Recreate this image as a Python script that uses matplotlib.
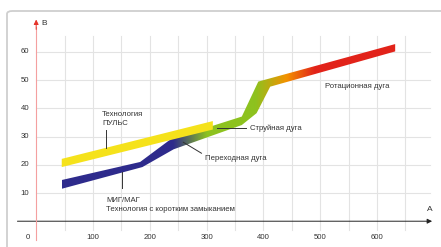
import numpy as np
import matplotlib.pyplot as plt
from matplotlib.colors import LinearSegmentedColormap
from matplotlib.patches import Polygon, FancyBboxPatch

plt.rcParams['font.family'] = ['Liberation Sans', 'DejaVu Sans']

# band edges: current [A] -> voltage [V]
pulse_x = [45, 311]
pulse_top = [22.1, 35.5]
pulse_bot = [19.2, 32.5]

arc_top_x = [45, 183, 237, 362, 391, 632]
arc_top_y = [14.6, 21.0, 29.1, 37.1, 49.5, 62.8]
arc_bot_x = [45, 187, 242, 362, 388, 412, 632]
arc_bot_y = [11.5, 19.2, 25.5, 34.1, 38.3, 47.7, 60.2]

# colour stops along the current axis (MIG/MAG -> transition -> spray -> rotating)
grad_x = [45, 240, 300, 385, 440, 490, 632]
grad_colors = ['#2e2b8c', '#2e2b8c', '#8dc21f', '#8dc21f', '#f39200', '#e2231a', '#e2231a']

x_ticks = [100, 200, 300, 400, 500, 600]
y_ticks = [10, 20, 30, 40, 50, 60]
x_grid = [50, 100, 150, 200, 250, 300, 350, 400, 450, 500, 550, 600, 650]

W, H = 441, 247
fig = plt.figure(figsize=(W / 100, H / 100), dpi=100)
xmin, xmax, ymin, ymax = -35, 700, -9, 73
ax = fig.add_axes([16.3 / W, 0.4 / H, (433.8 - 16.3) / W, (246.6 - 15.3) / H])
ax.set_axis_off()

# frame
fig.add_artist(FancyBboxPatch((7 / W, -0.1), 1.5, 1 - 11 / H + 0.1,
                              boxstyle='round,pad=0,rounding_size=0.012',
                              transform=fig.transFigure, fill=False,
                              ec='#cfcfcf', lw=1.3))

# grid
for y in y_ticks:
    ax.plot([0, 693], [y, y], color='#e3e3e3', lw=0.8, zorder=1)
for x in x_grid:
    ax.plot([x, x], [-3.1, 65.5], color='#e3e3e3', lw=0.8, zorder=1)

# axes with arrows
ax.annotate('', xy=(697, 0), xytext=(-33, 0),
            arrowprops=dict(arrowstyle='-|>', color='#222222', lw=0.7,
                            mutation_scale=7, shrinkA=0, shrinkB=0), zorder=2)
ax.plot([0, 0], [-6.7, 69], color='#f4a0a0', lw=0.8, zorder=2)
ax.annotate('', xy=(0, 71.5), xytext=(0, 68),
            arrowprops=dict(arrowstyle='-|>', color='#e5332a', lw=0.7,
                            mutation_scale=7, shrinkA=0, shrinkB=0), zorder=2)

fs = 5.6
ax.text(-14.4, -5.7, '0', fontsize=fs, ha='center', va='center', color='#333333')
for x in x_ticks:
    ax.text(x, -5.7, str(x), fontsize=fs, ha='center', va='center', color='#333333')
for y in y_ticks:
    ax.text(-19.7, y, str(y), fontsize=fs, ha='center', va='center', color='#333333')
ax.text(13.7, 70.2, 'В', fontsize=fs + 0.4, ha='center', va='center', color='#333333')
ax.text(693, 4.3, 'А', fontsize=fs + 0.4, ha='center', va='center', color='#333333')

# gradient band
cmap = LinearSegmentedColormap.from_list(
    'arc', [((gx - grad_x[0]) / (grad_x[-1] - grad_x[0]), c) for gx, c in zip(grad_x, grad_colors)])
band = np.column_stack([arc_top_x + arc_bot_x[::-1], arc_top_y + arc_bot_y[::-1]])
poly = Polygon(band, closed=True, fill=False, ec='none')
ax.add_patch(poly)
im = ax.imshow(np.linspace(0, 1, 512)[None, :], extent=(grad_x[0], grad_x[-1], 10, 64),
               aspect='auto', cmap=cmap, origin='lower', zorder=3)
im.set_clip_path(poly)

# pulse band
pulse = np.column_stack([pulse_x + pulse_x[::-1], pulse_top + pulse_bot[::-1]])
ax.add_patch(Polygon(pulse, closed=True, fc='#f5e21b', ec='none', zorder=4))

# labels and leader lines
tc = '#333333'
ax.text(116, 36.3, 'Технология\nПУЛЬС', fontsize=fs, ha='left', va='center',
        color=tc, linespacing=1.4)
ax.plot([123, 123], [32.3, 26.0], color='#333333', lw=0.7, zorder=5)
ax.text(123, 5.7, 'МИГ/МАГ\nТехнология с коротким замыканием', fontsize=fs,
        ha='left', va='center', color=tc, linespacing=1.4)
ax.plot([151, 151], [17.4, 11.7], color='#333333', lw=0.7, zorder=5)
ax.text(297, 22.4, 'Переходная дуга', fontsize=fs, ha='left', va='center', color=tc)
ax.plot([259, 291], [28.0, 24.1], color='#333333', lw=0.7, zorder=5)
ax.text(376, 32.9, 'Струйная дуга', fontsize=fs, ha='left', va='center', color=tc)
ax.plot([318, 370], [32.9, 32.9], color='#333333', lw=0.7, zorder=5)
ax.text(508, 47.9, 'Ротационная дуга', fontsize=fs, ha='left', va='center', color=tc)

ax.set_xlim(xmin, xmax)
ax.set_ylim(ymin, ymax)
fig.savefig('out.png', dpi=100)
